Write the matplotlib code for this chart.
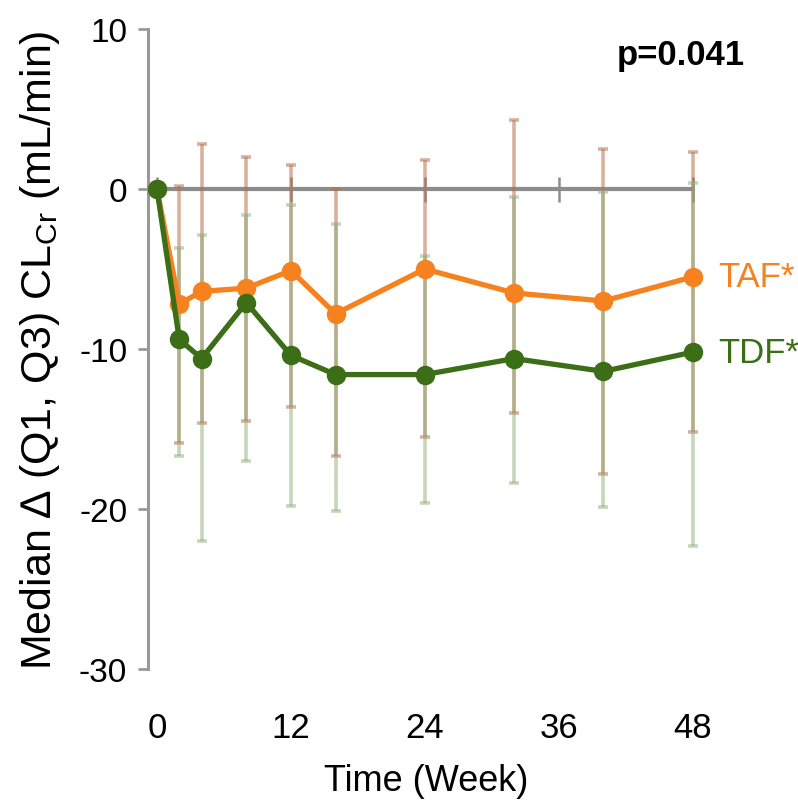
import matplotlib
matplotlib.use("Agg")
import matplotlib.pyplot as plt

plt.rcParams['font.family'] = ['Liberation Sans', 'DejaVu Sans']
plt.rcParams['axes.unicode_minus'] = False

# Visit weeks and median change in creatinine clearance
weeks = [0, 2, 4, 8, 12, 16, 24, 32, 40, 48]

taf_median = [0, -7.2, -6.4, -6.2, -5.1, -7.8, -5.0, -6.5, -7.0, -5.5]
taf_q1 = [0, -15.9, -14.6, -14.5, -13.6, -16.7, -15.5, -14.0, -17.8, -15.2]
taf_q3 = [0, 0.2, 2.8, 2.0, 1.5, 0.0, 1.8, 4.3, 2.5, 2.3]

tdf_median = [0, -9.4, -10.6, -7.1, -10.4, -11.6, -11.6, -10.6, -11.4, -10.2]
tdf_q1 = [0, -16.7, -22.0, -17.0, -19.8, -20.1, -19.6, -18.4, -19.9, -22.3]
tdf_q3 = [0, -3.7, -2.9, -1.6, -1.0, -2.2, -4.2, -0.5, -0.2, 0.4]

x_ticks = [0, 12, 24, 36, 48]
y_ticks = [10, 0, -10, -20, -30]

taf_color = '#f5821f'
tdf_color = '#3b6e17'

fig = plt.figure(figsize=(7.98, 8.12), dpi=100)
ax = fig.add_axes([0.1855, 0.175, 0.6965, 0.788])


def draw_group(median, q1, q3, line_color, bar_color, bar_alpha, z):
    lower = [m - lo for m, lo in zip(median, q1)]
    upper = [hi - m for m, hi in zip(median, q3)]
    ax.errorbar(weeks, median, yerr=[lower, upper], fmt='none',
                ecolor=bar_color, elinewidth=2.6, capsize=3.6,
                capthick=2.6, alpha=bar_alpha, zorder=z)
    ax.plot(weeks, median, '-o', color=line_color, lw=3.8,
            markersize=13, zorder=z + 2)


# zero reference line with week ticks
ax.hlines(0, x_ticks[0], x_ticks[-1], color='#8c8c8c', lw=3, zorder=1)
ax.plot(x_ticks, [0] * len(x_ticks), '|', color='#8c8c8c', ms=18, mew=1.8, zorder=1)

draw_group(taf_median, taf_q1, taf_q3, taf_color, '#b8714f', 0.55, 2)
draw_group(tdf_median, tdf_q1, tdf_q3, tdf_color, '#8fae76', 0.5, 3)

ax.set_xlim(-0.8, 49)
ax.set_ylim(-30, 10)

for side in ['top', 'right', 'bottom']:
    ax.spines[side].set_visible(False)
ax.spines['left'].set_color('#999999')
ax.spines['left'].set_linewidth(2.2)

ax.set_yticks(y_ticks)
ax.tick_params(axis='y', length=7, width=2, color='#999999',
               labelsize=24, pad=8)
ax.set_xticks(x_ticks)
ax.tick_params(axis='x', length=0, labelsize=25, pad=30)

ax.set_xlabel('Time (Week)', fontsize=26, labelpad=14)
ax.set_ylabel('Median \u2206 (Q1, Q3) CL$_{\\mathregular{Cr}}$ (mL/min)',
              fontsize=31, labelpad=12)

fig.text(0.934, 0.932, 'p=0.041', fontsize=25, fontweight='bold',
         ha='right', va='center')

ax.text(50.3, taf_median[-1], 'TAF*', color=taf_color, fontsize=25,
        va='center', ha='left', clip_on=False)
ax.text(50.3, tdf_median[-1], 'TDF*', color=tdf_color, fontsize=25,
        va='center', ha='left', clip_on=False)

fig.savefig('out.png', dpi=100)
